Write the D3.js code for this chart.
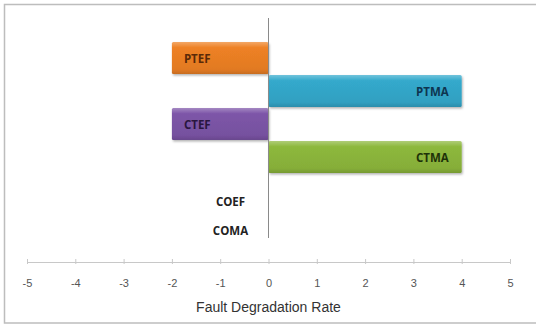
<!DOCTYPE html>
<html><head><meta charset="utf-8">
<script src="https://cdn.jsdelivr.net/npm/d3@7"></script>
<style>html,body{margin:0;padding:0;background:#fff;}svg{display:block;}</style>
</head><body>
<script>
const categories = ["PTEF","PTMA","CTEF","CTMA","COEF","COMA"];
const values = [-2, 4, -2, 4, 0, 0];
const colors = ["#EE8125","#34A9CC","#7D55A8","#8DB83C"];
const labelColors = ["#5a2a08","#0e3550","#2a1640","#1e3208"];
const xTicks = [-5,-4,-3,-2,-1,0,1,2,3,4,5];
const xTitle = "Fault Degradation Rate";

const W = 536, H = 327;
const svg = d3.select("body").append("svg").attr("width", W).attr("height", H);
const defs = svg.append("defs");

// frame
svg.append("rect").attr("x",4.5).attr("y",4.5).attr("width",W+10).attr("height",H-8.5)
  .attr("fill","#fff").attr("stroke","#bdbdbd").attr("stroke-width",1.5);

const x = d3.scaleLinear().domain([-5,5]).range([27,510]);
const y = d3.scaleBand().domain(categories).range([42,240]).padding(0);

// gradients
colors.forEach((c,i)=>{
  const g = defs.append("linearGradient").attr("id","g"+i).attr("x1",0).attr("y1",0).attr("x2",0).attr("y2",1);
  const cc = d3.color(c);
  g.append("stop").attr("offset","0%").attr("stop-color", d3.interpolateRgb(c,"#fff")(0.3));
  g.append("stop").attr("offset","18%").attr("stop-color", c);
  g.append("stop").attr("offset","85%").attr("stop-color", cc.darker(0.15));
  g.append("stop").attr("offset","100%").attr("stop-color", cc.darker(0.5));
});
const sh = defs.append("filter").attr("id","sh").attr("x","-5%").attr("y","-10%").attr("width","115%").attr("height","140%");
sh.append("feDropShadow").attr("dx",1).attr("dy",1.5).attr("stdDeviation",1).attr("flood-color","#000").attr("flood-opacity",0.3);

// bottom axis
const axisY = 262;
const ax = svg.append("g").attr("transform",`translate(0,${axisY})`)
  .call(d3.axisBottom(x).tickValues(xTicks).tickSize(0).tickPadding(17).tickFormat(d=>String(d)));
ax.select(".domain").attr("stroke","#c8c8c8").attr("stroke-width",1.2);
ax.selectAll(".tick text").attr("fill","#555").attr("font-family","Arial, 'Liberation Sans', sans-serif").attr("font-size","11px");
ax.selectAll(".tick").append("line").attr("y1",-3).attr("y2",2).attr("stroke","#c8c8c8");

// bars
const data = categories.map((c,i)=>({c, v: values[i], i}));
svg.selectAll("rect.bar").data(data.filter(d=>d.v!==0)).join("rect").attr("class","bar")
  .attr("x", d=>x(Math.min(0,d.v)))
  .attr("y", d=>y(d.c))
  .attr("width", d=>Math.abs(x(d.v)-x(0)))
  .attr("height", y.bandwidth()-1)
  .attr("rx",1.5)
  .attr("fill", d=>`url(#g${d.i})`)
  .attr("filter","url(#sh)");

// zero line (category axis)
svg.append("line").attr("x1",x(0)).attr("x2",x(0)).attr("y1",18).attr("y2",238)
  .attr("stroke","#8a8a8a").attr("stroke-width",1);

// labels
const labelOffsets = {COEF: 11, COMA: 7};
svg.selectAll("text.lbl").data(data).join("text").attr("class","lbl")
  .attr("x", d=> d.v<0 ? x(d.v)+12 : d.v>0 ? x(d.v)-13 : x(0)-38)
  .attr("y", d=> y(d.c)+y.bandwidth()/2 + (labelOffsets[d.c]||0))
  .attr("dy","0.35em")
  .attr("text-anchor", d=> d.v<0 ? "start" : d.v>0 ? "end" : "middle")
  .attr("font-family","'Open Sans', sans-serif")
  .attr("font-weight","bold").attr("font-size","11.5px")
  .attr("fill", d=> d.i<4 ? labelColors[d.i] : "#222")
  .text(d=>d.c);

// title
svg.append("text").attr("x",x(0)).attr("y",312).attr("text-anchor","middle")
  .attr("font-family","Arial, 'Liberation Sans', sans-serif").attr("font-size","14px").attr("fill","#333")
  .text(xTitle);
</script>
</body></html>
